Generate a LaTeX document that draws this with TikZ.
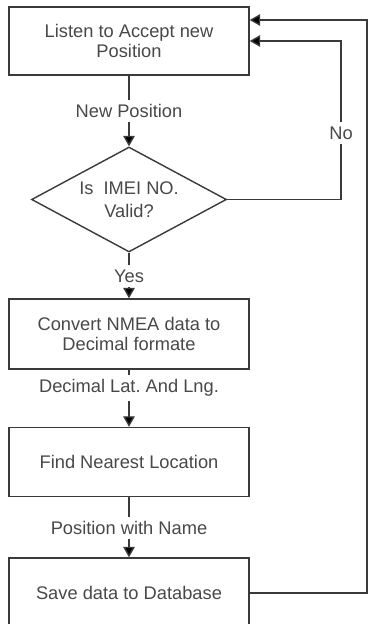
\documentclass[tikz,border=0pt]{standalone}
\usepackage{fontspec}
\setmainfont{Liberation Sans}
\usetikzlibrary{shapes.geometric,arrows.meta}
\definecolor{trait}{HTML}{3A3A3A}
\definecolor{texte}{HTML}{484848}
\frenchspacing

\begin{document}
\begin{tikzpicture}[x=0.02cm,y=-0.02cm,
  police/.style={text=texte,font=\fontsize{10.4}{11.4}\selectfont},
  boite/.style={draw=trait,line width=0.8pt,minimum width=4.8cm,align=center,inner sep=0pt,police},
  losange/.style={draw=trait,line width=0.8pt,shape=diamond,aspect=1.86,minimum width=3.9cm,minimum height=2.1cm,inner sep=0pt,align=center,police},
  etiq/.style={inner sep=2.5pt,police},
  lien/.style={draw=trait,line width=0.8pt},
  fleche/.style={-{Triangle[length=6pt,width=6.6pt,fill=black]}}]
  \useasboundingbox (0,0) rectangle (369,624);
  \clip (0,0) rectangle (369,624);
  % boites
  \node[boite,minimum height=1.36cm] (listen) at (129,41) {Listen to Accept new\\Position};
  \node[losange] (check) at (129,199.5) {Is\ \ IMEI NO.\\[1.5pt]Valid?};
  \node[boite,minimum height=1.4cm] (convert) at (129,334) {Convert NMEA data to\\Decimal formate};
  \node[boite,minimum height=1.38cm] (nearest) at (129,462) {Find Nearest Location};
  \node[boite,minimum height=1.4cm] (save) at (129,593) {Save data to Database};
  % etiquettes
  \node[etiq] (newpos) at (129,111) {New Position};
  \node[etiq] (yes) at (129,276) {Yes};
  \node[etiq] (latlng) at (129,388) {Decimal Lat. And Lng.};
  \node[etiq] (withname) at (129,528) {Position with Name};
  \node[etiq] (no) at (341,133) {No};
  % liens verticaux
  \draw[lien] (listen) -- (newpos);
  \draw[lien,fleche] (newpos) -- (check);
  \draw[lien] (check) -- (yes);
  \draw[lien,fleche] (yes) -- (convert);
  \draw[lien] (convert) -- (latlng);
  \draw[lien,fleche] (latlng) -- (nearest);
  \draw[lien] (nearest) -- (withname);
  \draw[lien,fleche] (withname) -- (save);
  % boucle No
  \draw[lien] (check.east) -| (no);
  \draw[lien,fleche] (no) |- (listen.east);
  % retour apres sauvegarde
  \coordinate (ret) at (367,20);
  \draw[lien,fleche] (save.east) -| (ret) -- (ret -| listen.east);
\end{tikzpicture}
\end{document}
